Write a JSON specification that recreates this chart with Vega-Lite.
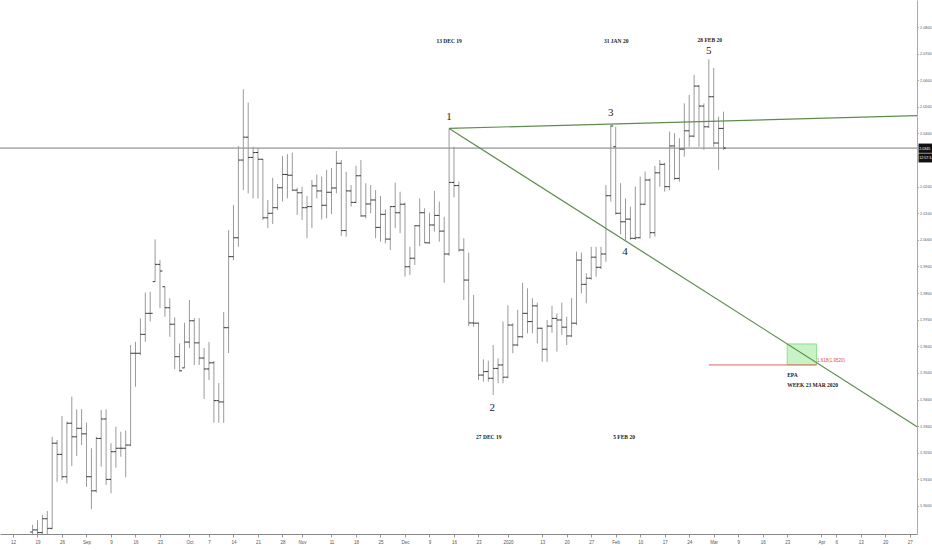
{
  "$schema": "https://vega.github.io/schema/vega-lite/v6.json",
  "width": 917,
  "height": 534,
  "autosize": {"type": "none"},
  "padding": {"left": 0, "top": 0, "right": 15, "bottom": 16},
  "background": "white",
  "config": {
    "view": {"stroke": null},
    "axis": {"labelFont": "Liberation Sans", "labelColor": "#555", "grid": false, "labelFlush": false, "labelOverlap": false},
    "axisX": {"labelFontSize": 4.5},
    "axisY": {"labelFontSize": 3.8}
  },
  "datasets": {
    "bars": [
      {"date": "2019-08-16", "day": 4, "open": 1.8902, "high": 1.8929, "low": 1.8887, "close": 1.8910},
      {"date": "2019-08-19", "day": 5, "open": 1.8910, "high": 1.8947, "low": 1.8887, "close": 1.8900},
      {"date": "2019-08-20", "day": 6, "open": 1.8900, "high": 1.8966, "low": 1.8887, "close": 1.8952},
      {"date": "2019-08-21", "day": 7, "open": 1.8952, "high": 1.8981, "low": 1.8887, "close": 1.8916},
      {"date": "2019-08-22", "day": 8, "open": 1.8916, "high": 1.9260, "low": 1.8912, "close": 1.9236},
      {"date": "2019-08-23", "day": 9, "open": 1.9236, "high": 1.9248, "low": 1.9091, "close": 1.9194},
      {"date": "2019-08-26", "day": 10, "open": 1.9194, "high": 1.9338, "low": 1.9098, "close": 1.9110},
      {"date": "2019-08-27", "day": 11, "open": 1.9110, "high": 1.9317, "low": 1.9085, "close": 1.9311},
      {"date": "2019-08-28", "day": 12, "open": 1.9311, "high": 1.9411, "low": 1.9150, "close": 1.9260},
      {"date": "2019-08-29", "day": 13, "open": 1.9260, "high": 1.9363, "low": 1.9188, "close": 1.9292},
      {"date": "2019-08-30", "day": 14, "open": 1.9292, "high": 1.9364, "low": 1.9229, "close": 1.9271},
      {"date": "2019-09-02", "day": 15, "open": 1.9271, "high": 1.9314, "low": 1.9072, "close": 1.9110},
      {"date": "2019-09-03", "day": 16, "open": 1.9110, "high": 1.9217, "low": 1.8988, "close": 1.9057},
      {"date": "2019-09-04", "day": 17, "open": 1.9057, "high": 1.9260, "low": 1.9050, "close": 1.9254},
      {"date": "2019-09-05", "day": 18, "open": 1.9254, "high": 1.9361, "low": 1.9148, "close": 1.9327},
      {"date": "2019-09-06", "day": 19, "open": 1.9327, "high": 1.9363, "low": 1.9079, "close": 1.9100},
      {"date": "2019-09-09", "day": 20, "open": 1.9100, "high": 1.9236, "low": 1.9048, "close": 1.9204},
      {"date": "2019-09-10", "day": 21, "open": 1.9204, "high": 1.9298, "low": 1.9144, "close": 1.9217},
      {"date": "2019-09-11", "day": 22, "open": 1.9217, "high": 1.9279, "low": 1.9185, "close": 1.9217},
      {"date": "2019-09-12", "day": 23, "open": 1.9217, "high": 1.9283, "low": 1.9108, "close": 1.9229},
      {"date": "2019-09-13", "day": 24, "open": 1.9229, "high": 1.9605, "low": 1.9225, "close": 1.9574},
      {"date": "2019-09-16", "day": 25, "open": 1.9574, "high": 1.9617, "low": 1.9448, "close": 1.9574},
      {"date": "2019-09-17", "day": 26, "open": 1.9574, "high": 1.9705, "low": 1.9567, "close": 1.9645},
      {"date": "2019-09-18", "day": 27, "open": 1.9645, "high": 1.9802, "low": 1.9617, "close": 1.9724},
      {"date": "2019-09-19", "day": 28, "open": 1.9724, "high": 1.9805, "low": 1.9693, "close": 1.9724},
      {"date": "2019-09-20", "day": 29, "open": 1.9843, "high": 2.0002, "low": 1.9843, "close": 1.9908},
      {"date": "2019-09-23", "day": 30, "open": 1.9908, "high": 1.9924, "low": 1.9743, "close": 1.9883},
      {"date": "2019-09-24", "day": 31, "open": 1.9824, "high": 1.9824, "low": 1.9711, "close": 1.9745},
      {"date": "2019-09-25", "day": 32, "open": 1.9745, "high": 1.9781, "low": 1.9636, "close": 1.9683},
      {"date": "2019-09-26", "day": 33, "open": 1.9683, "high": 1.9709, "low": 1.9514, "close": 1.9561},
      {"date": "2019-09-27", "day": 34, "open": 1.9561, "high": 1.9611, "low": 1.9505, "close": 1.9508},
      {"date": "2019-09-30", "day": 35, "open": 1.9519, "high": 1.9688, "low": 1.9519, "close": 1.9616},
      {"date": "2019-10-01", "day": 36, "open": 1.9616, "high": 1.9774, "low": 1.9594, "close": 1.9696},
      {"date": "2019-10-02", "day": 37, "open": 1.9696, "high": 1.9706, "low": 1.9530, "close": 1.9613},
      {"date": "2019-10-03", "day": 38, "open": 1.9613, "high": 1.9706, "low": 1.9530, "close": 1.9556},
      {"date": "2019-10-04", "day": 39, "open": 1.9556, "high": 1.9594, "low": 1.9402, "close": 1.9515},
      {"date": "2019-10-07", "day": 40, "open": 1.9515, "high": 1.9616, "low": 1.9473, "close": 1.9538},
      {"date": "2019-10-08", "day": 41, "open": 1.9538, "high": 1.9545, "low": 1.9313, "close": 1.9396},
      {"date": "2019-10-09", "day": 42, "open": 1.9396, "high": 1.9462, "low": 1.9313, "close": 1.9391},
      {"date": "2019-10-10", "day": 43, "open": 1.9391, "high": 1.9729, "low": 1.9312, "close": 1.9670},
      {"date": "2019-10-11", "day": 44, "open": 1.9670, "high": 2.0037, "low": 1.9575, "close": 1.9937},
      {"date": "2019-10-14", "day": 45, "open": 1.9937, "high": 2.0131, "low": 1.9924, "close": 2.0008},
      {"date": "2019-10-15", "day": 46, "open": 2.0008, "high": 2.0353, "low": 1.9974, "close": 2.0300},
      {"date": "2019-10-16", "day": 47, "open": 2.0300, "high": 2.0566, "low": 2.0187, "close": 2.0386},
      {"date": "2019-10-17", "day": 48, "open": 2.0386, "high": 2.0516, "low": 2.0175, "close": 2.0310},
      {"date": "2019-10-18", "day": 49, "open": 2.0310, "high": 2.0350, "low": 2.0156, "close": 2.0328},
      {"date": "2019-10-21", "day": 50, "open": 2.0328, "high": 2.0346, "low": 2.0156, "close": 2.0303},
      {"date": "2019-10-22", "day": 51, "open": 2.0303, "high": 2.0305, "low": 2.0075, "close": 2.0083},
      {"date": "2019-10-23", "day": 52, "open": 2.0083, "high": 2.0150, "low": 2.0044, "close": 2.0100},
      {"date": "2019-10-24", "day": 53, "open": 2.0100, "high": 2.0233, "low": 2.0060, "close": 2.0121},
      {"date": "2019-10-25", "day": 54, "open": 2.0121, "high": 2.0210, "low": 2.0112, "close": 2.0196},
      {"date": "2019-10-28", "day": 55, "open": 2.0196, "high": 2.0315, "low": 2.0144, "close": 2.0246},
      {"date": "2019-10-29", "day": 56, "open": 2.0246, "high": 2.0322, "low": 2.0156, "close": 2.0243},
      {"date": "2019-10-30", "day": 57, "open": 2.0243, "high": 2.0328, "low": 2.0184, "close": 2.0187},
      {"date": "2019-10-31", "day": 58, "open": 2.0187, "high": 2.0196, "low": 2.0094, "close": 2.0177},
      {"date": "2019-11-01", "day": 59, "open": 2.0177, "high": 2.0200, "low": 2.0075, "close": 2.0121},
      {"date": "2019-11-04", "day": 60, "open": 2.0121, "high": 2.0165, "low": 2.0006, "close": 2.0125},
      {"date": "2019-11-05", "day": 61, "open": 2.0125, "high": 2.0225, "low": 2.0044, "close": 2.0203},
      {"date": "2019-11-06", "day": 62, "open": 2.0203, "high": 2.0246, "low": 2.0156, "close": 2.0184},
      {"date": "2019-11-07", "day": 63, "open": 2.0184, "high": 2.0238, "low": 2.0077, "close": 2.0130},
      {"date": "2019-11-08", "day": 64, "open": 2.0130, "high": 2.0263, "low": 2.0081, "close": 2.0179},
      {"date": "2019-11-11", "day": 65, "open": 2.0179, "high": 2.0270, "low": 2.0097, "close": 2.0195},
      {"date": "2019-11-12", "day": 66, "open": 2.0195, "high": 2.0334, "low": 2.0175, "close": 2.0288},
      {"date": "2019-11-13", "day": 67, "open": 2.0288, "high": 2.0300, "low": 2.0015, "close": 2.0035},
      {"date": "2019-11-14", "day": 68, "open": 2.0035, "high": 2.0256, "low": 2.0012, "close": 2.0184},
      {"date": "2019-11-15", "day": 69, "open": 2.0184, "high": 2.0206, "low": 2.0125, "close": 2.0141},
      {"date": "2019-11-18", "day": 70, "open": 2.0141, "high": 2.0278, "low": 2.0138, "close": 2.0241},
      {"date": "2019-11-19", "day": 71, "open": 2.0241, "high": 2.0300, "low": 2.0087, "close": 2.0090},
      {"date": "2019-11-20", "day": 72, "open": 2.0090, "high": 2.0213, "low": 2.0081, "close": 2.0135},
      {"date": "2019-11-21", "day": 73, "open": 2.0135, "high": 2.0206, "low": 2.0100, "close": 2.0150},
      {"date": "2019-11-22", "day": 74, "open": 2.0150, "high": 2.0187, "low": 2.0006, "close": 2.0047},
      {"date": "2019-11-25", "day": 75, "open": 2.0047, "high": 2.0165, "low": 1.9993, "close": 2.0096},
      {"date": "2019-11-26", "day": 76, "open": 2.0096, "high": 2.0115, "low": 1.9987, "close": 2.0003},
      {"date": "2019-11-27", "day": 77, "open": 2.0003, "high": 2.0127, "low": 1.9962, "close": 2.0125},
      {"date": "2019-11-28", "day": 78, "open": 2.0125, "high": 2.0215, "low": 2.0044, "close": 2.0102},
      {"date": "2019-11-29", "day": 79, "open": 2.0102, "high": 2.0181, "low": 2.0025, "close": 2.0134},
      {"date": "2019-12-02", "day": 80, "open": 2.0134, "high": 2.0140, "low": 1.9862, "close": 1.9899},
      {"date": "2019-12-03", "day": 81, "open": 1.9899, "high": 1.9974, "low": 1.9868, "close": 1.9931},
      {"date": "2019-12-04", "day": 82, "open": 1.9931, "high": 2.0056, "low": 1.9906, "close": 2.0053},
      {"date": "2019-12-05", "day": 83, "open": 2.0053, "high": 2.0156, "low": 1.9977, "close": 2.0102},
      {"date": "2019-12-06", "day": 84, "open": 2.0102, "high": 2.0119, "low": 1.9988, "close": 1.9989},
      {"date": "2019-12-09", "day": 85, "open": 1.9989, "high": 2.0102, "low": 1.9985, "close": 2.0056},
      {"date": "2019-12-10", "day": 86, "open": 2.0056, "high": 2.0184, "low": 2.0031, "close": 2.0092},
      {"date": "2019-12-11", "day": 87, "open": 2.0092, "high": 2.0144, "low": 1.9993, "close": 2.0033},
      {"date": "2019-12-12", "day": 88, "open": 2.0033, "high": 2.0087, "low": 1.9839, "close": 1.9947},
      {"date": "2019-12-13", "day": 89, "open": 1.9947, "high": 2.0419, "low": 1.9940, "close": 2.0216},
      {"date": "2019-12-16", "day": 90, "open": 2.0216, "high": 2.0350, "low": 2.0160, "close": 2.0204},
      {"date": "2019-12-17", "day": 91, "open": 2.0204, "high": 2.0219, "low": 1.9956, "close": 1.9962},
      {"date": "2019-12-18", "day": 92, "open": 1.9962, "high": 2.0006, "low": 1.9774, "close": 1.9849},
      {"date": "2019-12-19", "day": 93, "open": 1.9849, "high": 1.9952, "low": 1.9676, "close": 1.9688},
      {"date": "2019-12-20", "day": 94, "open": 1.9688, "high": 1.9793, "low": 1.9673, "close": 1.9687},
      {"date": "2019-12-23", "day": 95, "open": 1.9687, "high": 1.9690, "low": 1.9473, "close": 1.9492},
      {"date": "2019-12-24", "day": 96, "open": 1.9492, "high": 1.9551, "low": 1.9467, "close": 1.9505},
      {"date": "2019-12-26", "day": 97, "open": 1.9505, "high": 1.9546, "low": 1.9467, "close": 1.9480},
      {"date": "2019-12-27", "day": 98, "open": 1.9480, "high": 1.9605, "low": 1.9417, "close": 1.9517},
      {"date": "2019-12-30", "day": 99, "open": 1.9517, "high": 1.9555, "low": 1.9461, "close": 1.9530},
      {"date": "2019-12-31", "day": 100, "open": 1.9530, "high": 1.9693, "low": 1.9461, "close": 1.9484},
      {"date": "2020-01-02", "day": 101, "open": 1.9484, "high": 1.9755, "low": 1.9480, "close": 1.9680},
      {"date": "2020-01-03", "day": 102, "open": 1.9680, "high": 1.9687, "low": 1.9574, "close": 1.9605},
      {"date": "2020-01-06", "day": 103, "open": 1.9605, "high": 1.9737, "low": 1.9600, "close": 1.9636},
      {"date": "2020-01-07", "day": 104, "open": 1.9636, "high": 1.9839, "low": 1.9630, "close": 1.9724},
      {"date": "2020-01-08", "day": 105, "open": 1.9724, "high": 1.9818, "low": 1.9649, "close": 1.9693},
      {"date": "2020-01-09", "day": 106, "open": 1.9693, "high": 1.9781, "low": 1.9649, "close": 1.9752},
      {"date": "2020-01-10", "day": 107, "open": 1.9752, "high": 1.9764, "low": 1.9611, "close": 1.9668},
      {"date": "2020-01-13", "day": 108, "open": 1.9668, "high": 1.9670, "low": 1.9542, "close": 1.9589},
      {"date": "2020-01-14", "day": 109, "open": 1.9589, "high": 1.9699, "low": 1.9542, "close": 1.9676},
      {"date": "2020-01-15", "day": 110, "open": 1.9676, "high": 1.9752, "low": 1.9651, "close": 1.9705},
      {"date": "2020-01-16", "day": 111, "open": 1.9705, "high": 1.9724, "low": 1.9580, "close": 1.9699},
      {"date": "2020-01-17", "day": 112, "open": 1.9699, "high": 1.9764, "low": 1.9643, "close": 1.9672},
      {"date": "2020-01-20", "day": 113, "open": 1.9672, "high": 1.9711, "low": 1.9605, "close": 1.9639},
      {"date": "2020-01-21", "day": 114, "open": 1.9639, "high": 1.9781, "low": 1.9635, "close": 1.9687},
      {"date": "2020-01-22", "day": 115, "open": 1.9687, "high": 1.9956, "low": 1.9680, "close": 1.9924},
      {"date": "2020-01-23", "day": 116, "open": 1.9924, "high": 1.9952, "low": 1.9799, "close": 1.9833},
      {"date": "2020-01-24", "day": 117, "open": 1.9833, "high": 1.9874, "low": 1.9762, "close": 1.9856},
      {"date": "2020-01-27", "day": 118, "open": 1.9856, "high": 1.9974, "low": 1.9850, "close": 1.9935},
      {"date": "2020-01-28", "day": 119, "open": 1.9935, "high": 1.9974, "low": 1.9862, "close": 1.9897},
      {"date": "2020-01-29", "day": 120, "open": 1.9897, "high": 1.9974, "low": 1.9890, "close": 1.9947},
      {"date": "2020-01-30", "day": 121, "open": 1.9947, "high": 2.0206, "low": 1.9918, "close": 2.0166},
      {"date": "2020-01-31", "day": 122, "open": 2.0166, "high": 2.0432, "low": 2.0144, "close": 2.0428},
      {"date": "2020-02-03", "day": 123, "open": 2.0350, "high": 2.0425, "low": 2.0095, "close": 2.0100},
      {"date": "2020-02-04", "day": 124, "open": 2.0100, "high": 2.0213, "low": 2.0021, "close": 2.0068},
      {"date": "2020-02-05", "day": 125, "open": 2.0068, "high": 2.0156, "low": 2.0000, "close": 2.0078},
      {"date": "2020-02-06", "day": 126, "open": 2.0078, "high": 2.0125, "low": 2.0000, "close": 2.0006},
      {"date": "2020-02-07", "day": 127, "open": 2.0006, "high": 2.0200, "low": 2.0000, "close": 2.0008},
      {"date": "2020-02-10", "day": 128, "open": 2.0008, "high": 2.0238, "low": 2.0005, "close": 2.0134},
      {"date": "2020-02-11", "day": 129, "open": 2.0134, "high": 2.0257, "low": 2.0130, "close": 2.0225},
      {"date": "2020-02-12", "day": 130, "open": 2.0225, "high": 2.0231, "low": 2.0006, "close": 2.0027},
      {"date": "2020-02-13", "day": 131, "open": 2.0027, "high": 2.0278, "low": 2.0012, "close": 2.0252},
      {"date": "2020-02-14", "day": 132, "open": 2.0252, "high": 2.0300, "low": 2.0200, "close": 2.0284},
      {"date": "2020-02-17", "day": 133, "open": 2.0284, "high": 2.0290, "low": 2.0181, "close": 2.0200},
      {"date": "2020-02-18", "day": 134, "open": 2.0200, "high": 2.0407, "low": 2.0187, "close": 2.0353},
      {"date": "2020-02-19", "day": 135, "open": 2.0353, "high": 2.0401, "low": 2.0225, "close": 2.0231},
      {"date": "2020-02-20", "day": 136, "open": 2.0231, "high": 2.0382, "low": 2.0219, "close": 2.0341},
      {"date": "2020-02-21", "day": 137, "open": 2.0341, "high": 2.0513, "low": 2.0313, "close": 2.0410},
      {"date": "2020-02-24", "day": 138, "open": 2.0410, "high": 2.0545, "low": 2.0350, "close": 2.0390},
      {"date": "2020-02-25", "day": 139, "open": 2.0390, "high": 2.0620, "low": 2.0385, "close": 2.0578},
      {"date": "2020-02-26", "day": 140, "open": 2.0578, "high": 2.0582, "low": 2.0350, "close": 2.0503},
      {"date": "2020-02-27", "day": 141, "open": 2.0503, "high": 2.0513, "low": 2.0338, "close": 2.0425},
      {"date": "2020-02-28", "day": 142, "open": 2.0425, "high": 2.0679, "low": 2.0420, "close": 2.0538},
      {"date": "2020-03-02", "day": 143, "open": 2.0538, "high": 2.0646, "low": 2.0349, "close": 2.0364},
      {"date": "2020-03-03", "day": 144, "open": 2.0364, "high": 2.0463, "low": 2.0263, "close": 2.0419},
      {"date": "2020-03-04", "day": 145, "open": 2.0419, "high": 2.0482, "low": 2.0338, "close": 2.0345}
    ],
    "last": [{"day": -2.653, "day2": 184.49, "price": 2.0345}],
    "trend": [
      {"day": 89, "price": 2.0419, "day2": 184.5, "price2": 2.0467},
      {"day": 89, "price": 2.0419, "day2": 184.5, "price2": 1.9298}
    ],
    "zone": [{"day": 158, "day2": 164, "top": 1.9609, "bottom": 1.9530}],
    "target": [{"day": 142, "day2": 164, "price": 1.9530}],
    "waves": [
      {"day": 89, "price": 2.0462, "label": "1"},
      {"day": 97.8, "price": 1.9368, "label": "2"},
      {"day": 122, "price": 2.0477, "label": "3"},
      {"day": 124.9, "price": 1.9954, "label": "4"},
      {"day": 142, "price": 2.0711, "label": "5"}
    ],
    "dates": [
      {"day": 89, "price": 2.0748, "label": "13 DEC 19"},
      {"day": 123.1, "price": 2.0748, "label": "31 JAN 20"},
      {"day": 142.2, "price": 2.0751, "label": "28 FEB 20"},
      {"day": 97.1, "price": 1.9259, "label": "27 DEC 19"},
      {"day": 124.7, "price": 1.9259, "label": "5 FEB 20"}
    ],
    "epa": [
      {"day": 158, "price": 1.9492, "label": "EPA"},
      {"day": 158, "price": 1.9455, "label": "WEEK 23 MAR 2020"}
    ],
    "fib": [{"day": 164.1, "price": 1.9545, "label": "1.618(1.9520)"}],
    "tags": [
      {"day": 184.8, "day2": 187.9, "top": 2.0362, "bottom": 2.0327, "label": "2.0345"},
      {"day": 184.8, "day2": 187.9, "top": 2.0325, "bottom": 2.0291, "label": "12:57:14"}
    ]
  },
  "encoding": {
    "x": {
      "field": "day", "type": "quantitative",
      "scale": {"domain": [-2.653, 184.49], "nice": false, "zero": false},
      "axis": {
        "title": null,
        "values": [0, 5, 10, 15, 20, 25, 30, 36, 40, 45, 50, 55, 59, 65, 70, 75, 80, 85, 90, 95, 101, 108, 113, 118, 123, 128, 133, 138, 143, 148, 153, 158, 165, 168, 173, 178, 183],
        "labelExpr": "['12','19','26','Sep','9','16','23','Oct','7','14','21','28','Nov','11','18','25','Dec','9','16','23','2020','13','20','27','Feb','10','17','24','Mar','9','16','23','Apr','6','13','20','27'][indexof([0,5,10,15,20,25,30,36,40,45,50,55,59,65,70,75,80,85,90,95,101,108,113,118,123,128,133,138,143,148,153,158,165,168,173,178,183], datum.value)]",
        "tickSize": 3, "tickColor": "#999", "domainColor": "#888", "labelPadding": 2
      }
    }
  },
  "layer": [
    {
      "data": {"name": "zone"},
      "mark": {"type": "rect", "fill": "#c8f3c4", "stroke": "#7ed67a", "strokeWidth": 0.8},
      "encoding": {
        "x2": {"field": "day2"},
        "y": {"field": "top", "type": "quantitative", "scale": {"domain": [1.88947, 2.09015], "nice": false, "zero": false},
              "axis": {"title": null, "orient": "right", "values": [1.90, 1.91, 1.92, 1.93, 1.94, 1.95, 1.96, 1.97, 1.98, 1.99, 2.00, 2.01, 2.02, 2.04, 2.05, 2.06, 2.07, 2.08], "format": ".4f", "tickSize": 1.5, "tickColor": "#aaa", "domainColor": "#aaa", "labelPadding": 1}},
        "y2": {"field": "bottom"}
      }
    },
    {
      "data": {"name": "target"},
      "mark": {"type": "rule", "color": "#e06666", "strokeWidth": 1},
      "encoding": {
        "x2": {"field": "day2"},
        "y": {"field": "price", "type": "quantitative", "scale": {"domain": [1.88947, 2.09015], "nice": false, "zero": false},
              "axis": {"title": null, "orient": "right", "values": [1.90, 1.91, 1.92, 1.93, 1.94, 1.95, 1.96, 1.97, 1.98, 1.99, 2.00, 2.01, 2.02, 2.04, 2.05, 2.06, 2.07, 2.08], "format": ".4f", "tickSize": 1.5, "tickColor": "#aaa", "domainColor": "#aaa", "labelPadding": 1}}
      }
    },
    {
      "data": {"name": "last"},
      "mark": {"type": "rule", "color": "#7a7a7a", "strokeWidth": 1},
      "encoding": {
        "x2": {"field": "day2"},
        "y": {"field": "price", "type": "quantitative", "scale": {"domain": [1.88947, 2.09015], "nice": false, "zero": false},
              "axis": {"title": null, "orient": "right", "values": [1.90, 1.91, 1.92, 1.93, 1.94, 1.95, 1.96, 1.97, 1.98, 1.99, 2.00, 2.01, 2.02, 2.04, 2.05, 2.06, 2.07, 2.08], "format": ".4f", "tickSize": 1.5, "tickColor": "#aaa", "domainColor": "#aaa", "labelPadding": 1}}
      }
    },
    {
      "data": {"name": "bars"},
      "mark": {"type": "rule", "color": "#9a9a9a", "strokeWidth": 1, "clip": true},
      "encoding": {
        "y": {"field": "low", "type": "quantitative", "scale": {"domain": [1.88947, 2.09015], "nice": false, "zero": false},
              "axis": {"title": null, "orient": "right", "values": [1.90, 1.91, 1.92, 1.93, 1.94, 1.95, 1.96, 1.97, 1.98, 1.99, 2.00, 2.01, 2.02, 2.04, 2.05, 2.06, 2.07, 2.08], "format": ".4f", "tickSize": 1.5, "tickColor": "#aaa", "domainColor": "#aaa", "labelPadding": 1}},
        "y2": {"field": "high"}
      }
    },
    {
      "data": {"name": "bars"},
      "mark": {"type": "tick", "orient": "horizontal", "size": 2.4, "thickness": 1, "xOffset": -1.2, "color": "#333", "opacity": 1, "clip": true},
      "encoding": {
        "y": {"field": "open", "type": "quantitative", "scale": {"domain": [1.88947, 2.09015], "nice": false, "zero": false},
              "axis": {"title": null, "orient": "right", "values": [1.90, 1.91, 1.92, 1.93, 1.94, 1.95, 1.96, 1.97, 1.98, 1.99, 2.00, 2.01, 2.02, 2.04, 2.05, 2.06, 2.07, 2.08], "format": ".4f", "tickSize": 1.5, "tickColor": "#aaa", "domainColor": "#aaa", "labelPadding": 1}}
      }
    },
    {
      "data": {"name": "bars"},
      "mark": {"type": "tick", "orient": "horizontal", "size": 2.4, "thickness": 1, "xOffset": 1.2, "color": "#333", "opacity": 1, "clip": true},
      "encoding": {
        "y": {"field": "close", "type": "quantitative", "scale": {"domain": [1.88947, 2.09015], "nice": false, "zero": false},
              "axis": {"title": null, "orient": "right", "values": [1.90, 1.91, 1.92, 1.93, 1.94, 1.95, 1.96, 1.97, 1.98, 1.99, 2.00, 2.01, 2.02, 2.04, 2.05, 2.06, 2.07, 2.08], "format": ".4f", "tickSize": 1.5, "tickColor": "#aaa", "domainColor": "#aaa", "labelPadding": 1}}
      }
    },
    {
      "data": {"name": "trend"},
      "mark": {"type": "rule", "color": "#5e8c4e", "strokeWidth": 1.2},
      "encoding": {
        "x2": {"field": "day2"},
        "y": {"field": "price", "type": "quantitative", "scale": {"domain": [1.88947, 2.09015], "nice": false, "zero": false},
              "axis": {"title": null, "orient": "right", "values": [1.90, 1.91, 1.92, 1.93, 1.94, 1.95, 1.96, 1.97, 1.98, 1.99, 2.00, 2.01, 2.02, 2.04, 2.05, 2.06, 2.07, 2.08], "format": ".4f", "tickSize": 1.5, "tickColor": "#aaa", "domainColor": "#aaa", "labelPadding": 1}},
        "y2": {"field": "price2"}
      }
    },
    {
      "data": {"name": "waves"},
      "mark": {"type": "text", "font": "Liberation Serif", "fontSize": 11, "color": "#222", "align": "center", "baseline": "middle"},
      "encoding": {
        "y": {"field": "price", "type": "quantitative", "scale": {"domain": [1.88947, 2.09015], "nice": false, "zero": false},
              "axis": {"title": null, "orient": "right", "values": [1.90, 1.91, 1.92, 1.93, 1.94, 1.95, 1.96, 1.97, 1.98, 1.99, 2.00, 2.01, 2.02, 2.04, 2.05, 2.06, 2.07, 2.08], "format": ".4f", "tickSize": 1.5, "tickColor": "#aaa", "domainColor": "#aaa", "labelPadding": 1}},
        "text": {"field": "label"}
      }
    },
    {
      "data": {"name": "dates"},
      "mark": {"type": "text", "font": "Liberation Serif", "fontSize": 5.5, "fontWeight": "bold", "color": "#222", "align": "center", "baseline": "middle"},
      "encoding": {
        "y": {"field": "price", "type": "quantitative", "scale": {"domain": [1.88947, 2.09015], "nice": false, "zero": false},
              "axis": {"title": null, "orient": "right", "values": [1.90, 1.91, 1.92, 1.93, 1.94, 1.95, 1.96, 1.97, 1.98, 1.99, 2.00, 2.01, 2.02, 2.04, 2.05, 2.06, 2.07, 2.08], "format": ".4f", "tickSize": 1.5, "tickColor": "#aaa", "domainColor": "#aaa", "labelPadding": 1}},
        "text": {"field": "label"}
      }
    },
    {
      "data": {"name": "epa"},
      "mark": {"type": "text", "font": "Liberation Serif", "fontSize": 5.5, "fontWeight": "bold", "color": "#222", "align": "left", "baseline": "middle"},
      "encoding": {
        "y": {"field": "price", "type": "quantitative", "scale": {"domain": [1.88947, 2.09015], "nice": false, "zero": false},
              "axis": {"title": null, "orient": "right", "values": [1.90, 1.91, 1.92, 1.93, 1.94, 1.95, 1.96, 1.97, 1.98, 1.99, 2.00, 2.01, 2.02, 2.04, 2.05, 2.06, 2.07, 2.08], "format": ".4f", "tickSize": 1.5, "tickColor": "#aaa", "domainColor": "#aaa", "labelPadding": 1}},
        "text": {"field": "label"}
      }
    },
    {
      "data": {"name": "fib"},
      "mark": {"type": "text", "font": "Liberation Sans", "fontSize": 4.5, "color": "#d9534f", "align": "left", "baseline": "middle"},
      "encoding": {
        "y": {"field": "price", "type": "quantitative", "scale": {"domain": [1.88947, 2.09015], "nice": false, "zero": false},
              "axis": {"title": null, "orient": "right", "values": [1.90, 1.91, 1.92, 1.93, 1.94, 1.95, 1.96, 1.97, 1.98, 1.99, 2.00, 2.01, 2.02, 2.04, 2.05, 2.06, 2.07, 2.08], "format": ".4f", "tickSize": 1.5, "tickColor": "#aaa", "domainColor": "#aaa", "labelPadding": 1}},
        "text": {"field": "label"}
      }
    },
    {
      "data": {"name": "tags"},
      "mark": {"type": "rect", "fill": "#111"},
      "encoding": {
        "x2": {"field": "day2"},
        "y": {"field": "top", "type": "quantitative", "scale": {"domain": [1.88947, 2.09015], "nice": false, "zero": false},
              "axis": {"title": null, "orient": "right", "values": [1.90, 1.91, 1.92, 1.93, 1.94, 1.95, 1.96, 1.97, 1.98, 1.99, 2.00, 2.01, 2.02, 2.04, 2.05, 2.06, 2.07, 2.08], "format": ".4f", "tickSize": 1.5, "tickColor": "#aaa", "domainColor": "#aaa", "labelPadding": 1}},
        "y2": {"field": "bottom"}
      }
    },
    {
      "data": {"name": "tags"},
      "mark": {"type": "text", "font": "Liberation Sans", "fontSize": 3.6, "color": "white", "align": "left", "baseline": "bottom", "dx": 0.8, "dy": -2.2},
      "encoding": {
        "y": {"field": "bottom", "type": "quantitative", "scale": {"domain": [1.88947, 2.09015], "nice": false, "zero": false},
              "axis": {"title": null, "orient": "right", "values": [1.90, 1.91, 1.92, 1.93, 1.94, 1.95, 1.96, 1.97, 1.98, 1.99, 2.00, 2.01, 2.02, 2.04, 2.05, 2.06, 2.07, 2.08], "format": ".4f", "tickSize": 1.5, "tickColor": "#aaa", "domainColor": "#aaa", "labelPadding": 1}},
        "text": {"field": "label"}
      }
    }
  ]
}
